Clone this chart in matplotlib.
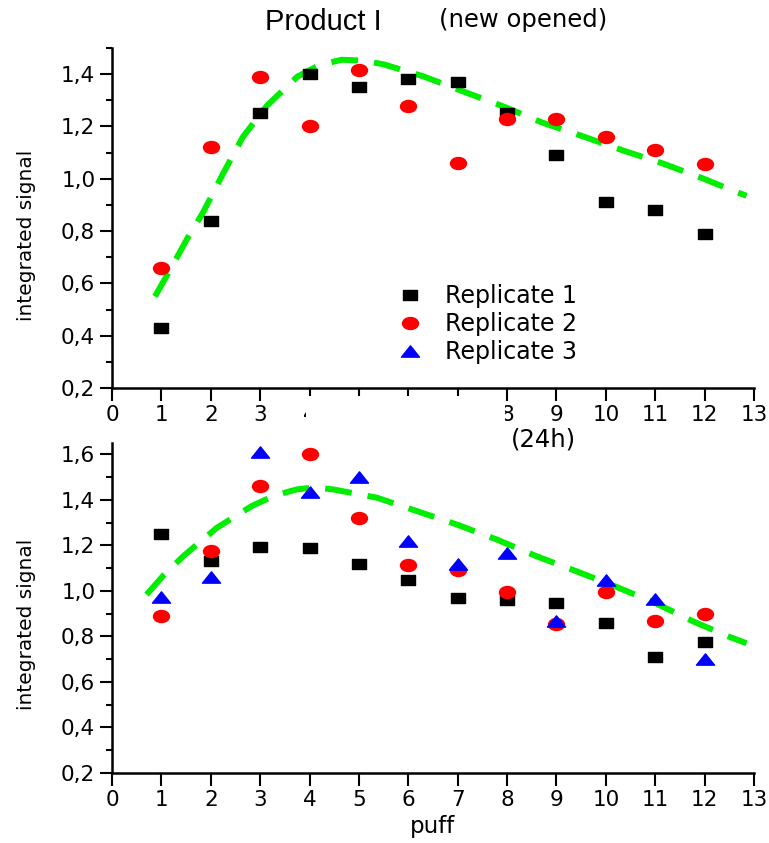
import numpy as np
import matplotlib
matplotlib.use('Agg')
import matplotlib.pyplot as plt
from matplotlib.path import Path
from matplotlib.lines import Line2D
from matplotlib.patches import Rectangle
from matplotlib.ticker import MultipleLocator, FuncFormatter

# ---------------- data ----------------
puffs = [1, 2, 3, 4, 5, 6, 7, 8, 9, 10, 11, 12]

top_rep1 = [0.43, 0.84, 1.25, 1.40, 1.35, 1.38, 1.37, 1.25, 1.09, 0.91, 0.88, 0.79]
top_rep2 = [0.66, 1.12, 1.39, 1.20, 1.415, 1.28, 1.06, 1.23, 1.23, 1.16, 1.11, 1.055]
top_fit_x = [0.87, 1.2, 1.52, 1.84, 2.25, 2.65, 3.14, 3.75, 4.2, 4.65, 5.05, 5.49,
             6.30, 7.11, 7.92, 8.71, 9.54, 10.35, 11.16, 11.97, 12.62, 12.85]
top_fit_y = [0.55, 0.66, 0.77, 0.87, 1.02, 1.16, 1.28, 1.39, 1.435, 1.455, 1.452, 1.438,
             1.392, 1.334, 1.277, 1.215, 1.162, 1.108, 1.058, 1.001, 0.951, 0.935]

bot_rep1 = [1.25, 1.13, 1.195, 1.19, 1.12, 1.05, 0.97, 0.96, 0.945, 0.86, 0.71, 0.775]
bot_rep2 = [0.89, 1.175, 1.46, 1.60, 1.32, 1.115, 1.09, 0.995, 0.855, 0.995, 0.87, 0.90]
bot_rep3 = [0.975, 1.06, 1.61, 1.435, 1.50, 1.22, 1.12, 1.165, 0.87, 1.05, 0.965, 0.70]
bot_fit_x = [0.70, 1.05, 1.44, 2.12, 2.83, 3.30, 3.74, 4.10, 4.48, 5.36, 6.17, 6.98,
             7.79, 8.60, 9.41, 10.19, 11.00, 11.77, 12.48, 12.85]
bot_fit_y = [0.984, 1.07, 1.152, 1.277, 1.373, 1.42, 1.446, 1.455, 1.446, 1.410, 1.351, 1.292,
             1.226, 1.152, 1.086, 1.020, 0.947, 0.866, 0.800, 0.77]

x_ticks = list(range(0, 14))
legend_labels = ['Replicate 1', 'Replicate 2', 'Replicate 3']

# ---------------- styling ----------------
plt.rcParams['font.family'] = ['DejaVu Sans']
W, H = 769, 843
fig = plt.figure(figsize=(W / 100, H / 100), dpi=100)

GREEN = '#00ee00'
NARROW = ['DejaVu Sans Condensed', 'Liberation Sans', 'DejaVu Sans']

# stretched marker shapes (the reference is horizontally stretched)
sq_marker = Path([(-0.65, -0.5), (0.65, -0.5), (0.65, 0.5), (-0.65, 0.5), (-0.65, -0.5)],
                 [Path.MOVETO, Path.LINETO, Path.LINETO, Path.LINETO, Path.CLOSEPOLY])
uc = Path.unit_circle()
el_marker = Path(uc.vertices * np.array([1.33, 1.0]), uc.codes)
tri_marker = Path([(-0.8, -0.5), (0.8, -0.5), (0.0, 0.5), (-0.8, -0.5)],
                  [Path.MOVETO, Path.LINETO, Path.LINETO, Path.CLOSEPOLY])

styles = {
    'r1': dict(marker=sq_marker, color='black', markersize=9.5, linestyle='none'),
    'r2': dict(marker=el_marker, color='#ff0000', markersize=11.5, linestyle='none'),
    'r3': dict(marker=tri_marker, color='#0000ff', markersize=13, linestyle='none'),
}


def fmt(v, pos):
    return ('%.1f' % v).replace('.', ',')


def style_axes(ax, ylim, yticks):
    ax.set_xlim(0, 13)
    ax.set_ylim(*ylim)
    ax.set_xticks(x_ticks)
    ax.set_yticks(yticks)
    ax.yaxis.set_minor_locator(MultipleLocator(0.1))
    ax.yaxis.set_major_formatter(FuncFormatter(fmt))
    for s in ['top', 'right']:
        ax.spines[s].set_visible(False)
    for s in ['left', 'bottom']:
        ax.spines[s].set_linewidth(1.8)
    ax.tick_params(axis='both', which='major', direction='out', length=9, width=1.5,
                   labelsize=15.5, pad=3)
    ax.tick_params(axis='y', which='minor', direction='out', length=4, width=1.5)
    ax.set_ylabel('integrated signal', fontsize=14.5, labelpad=18)
    ax.patch.set_visible(False)


# ---------------- top panel ----------------
ax1 = fig.add_axes([112 / W, (H - 388) / H, (754 - 112) / W, (388 - 48) / H])
ax1.plot(top_fit_x, top_fit_y, color=GREEN, linewidth=4.3, linestyle=(0, (4.5, 2.7)),
         solid_capstyle='butt', dash_capstyle='butt', zorder=1)
ax1.plot(puffs, top_rep1, zorder=3, **styles['r1'])
ax1.plot(puffs, top_rep2, zorder=3, **styles['r2'])
style_axes(ax1, (0.2, 1.5), [0.2, 0.4, 0.6, 0.8, 1.0, 1.2, 1.4])
ax1.yaxis.label.set_position((0, 0.45))

handles = [Line2D([], [], **styles['r1']), Line2D([], [], **styles['r2']),
           Line2D([], [], **styles['r3'])]
fig.legend(handles, legend_labels, loc='upper left',
           bbox_to_anchor=(397 / W, (H - 284) / H), bbox_transform=fig.transFigure,
           frameon=False, fontsize=17, handlelength=1.1, handletextpad=0.95,
           labelspacing=0.18, borderpad=0, borderaxespad=0)

fig.text(323 / W, 1 - 22 / H, 'Product I', fontsize=21,
         family=NARROW, ha='center', va='center')
fig.text(523 / W, 1 - 20 / H, '(new opened)', fontsize=17.5, ha='center', va='center')

# ---------------- bottom panel ----------------
ax2 = fig.add_axes([112 / W, (H - 773) / H, (754 - 112) / W, (773 - 443) / H])
ax2.plot(bot_fit_x, bot_fit_y, color=GREEN, linewidth=4.3, linestyle=(0, (4.5, 2.7)),
         solid_capstyle='butt', dash_capstyle='butt', zorder=1)
ax2.plot(puffs, bot_rep1, zorder=3, **styles['r1'])
ax2.plot(puffs, bot_rep2, zorder=3, **styles['r2'])
ax2.plot(puffs, bot_rep3, zorder=4, **styles['r3'])
style_axes(ax2, (0.2, 1.65), [0.2, 0.4, 0.6, 0.8, 1.0, 1.2, 1.4, 1.6])
ax2.set_xlabel('puff', fontsize=16.5, labelpad=4)
ax2.yaxis.label.set_position((0, 0.45))

fig.text(543 / W, 1 - 440 / H, '(24h)', fontsize=17.5, ha='center', va='center')

# white patch hiding part of the top x tick labels, as in the reference
fig.patches.append(Rectangle((306 / W, (H - 428) / H), (505 - 306) / W, 32 / H,
                             transform=fig.transFigure, facecolor='white',
                             edgecolor='none', zorder=10))

fig.savefig('out.png', dpi=100)
